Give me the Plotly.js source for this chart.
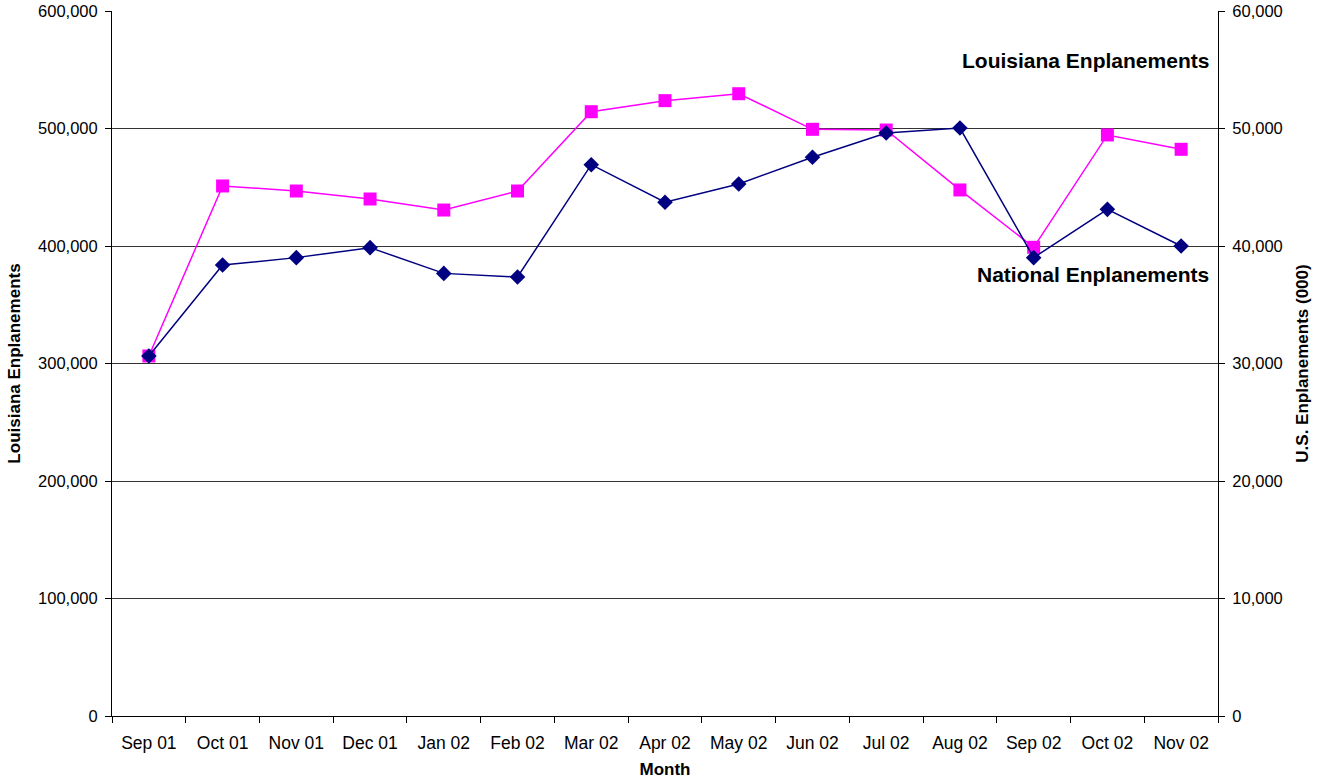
<!DOCTYPE html>
<html>
<head>
<meta charset="utf-8">
<script src="https://cdn.plot.ly/plotly-3.0.1.min.js"></script>
<style>
  html, body { margin: 0; padding: 0; background: #fff; }
  #chart { width: 1319px; height: 782px; }
</style>
</head>
<body>
<div id="chart"></div>
<script>
// Monthly enplanements, Sep 2001 - Nov 2002
const months = ["Sep 01", "Oct 01", "Nov 01", "Dec 01", "Jan 02", "Feb 02", "Mar 02",
                "Apr 02", "May 02", "Jun 02", "Jul 02", "Aug 02", "Sep 02", "Oct 02", "Nov 02"];

// Louisiana enplanements (left axis)
const louisiana = [306400, 451100, 446800, 440000, 430600, 446800, 514300,
                   523700, 529600, 499300, 498700, 447700, 398900, 494500, 482300];

// National enplanements in thousands (right axis)
const national = [30640, 38380, 39010, 39860, 37670, 37360, 46920,
                  43720, 45280, 47550, 49620, 50040, 39010, 43120, 40000];

const leftTicks = [0, 100000, 200000, 300000, 400000, 500000, 600000];
const rightTicks = [0, 10000, 20000, 30000, 40000, 50000, 60000];
const fmt = v => v.toLocaleString("en-US");

const FAMILY = "Liberation Sans, Arial, sans-serif";
const tickFont = { family: FAMILY, size: 16.5, color: "#000" };
const titleFont = { family: FAMILY, size: 17, color: "#000", weight: "bold" };
const noteFont = { family: FAMILY, size: 21, color: "#000", weight: "bold" };

const traces = [
  {
    x: months, y: louisiana, name: "Louisiana Enplanements",
    type: "scatter", mode: "lines+markers", yaxis: "y",
    line: { color: "#FF00FF", width: 1.5 },
    marker: { symbol: "square", size: 13, color: "#FF00FF" }
  },
  {
    x: months, y: national, name: "National Enplanements",
    type: "scatter", mode: "lines+markers", yaxis: "y2",
    line: { color: "#000080", width: 1.5 },
    marker: { symbol: "diamond", size: 12, color: "#000080" }
  }
];

const layout = {
  width: 1319, height: 782,
  margin: { l: 112, r: 101, t: 11, b: 66 },
  paper_bgcolor: "#fff", plot_bgcolor: "#fff",
  showlegend: false,
  xaxis: {
    type: "category", range: [-0.5, 14.5],
    tickson: "boundaries", ticks: "outside", ticklen: 6, tickcolor: "#000",
    showline: true, linecolor: "#000", linewidth: 1,
    showgrid: false, zeroline: false,
    tickfont: { family: FAMILY, size: 17.5, color: "#000" }, ticklabelstandoff: 11,
    title: { text: "Month", font: titleFont, standoff: 11 }
  },
  yaxis: {
    range: [0, 600000], tickvals: leftTicks, ticktext: leftTicks.map(fmt),
    ticks: "outside", ticklen: 6, tickcolor: "#000",
    showline: true, linecolor: "#000", linewidth: 1,
    showgrid: true, gridcolor: "#333", gridwidth: 1, zeroline: false,
    tickfont: tickFont, ticklabelstandoff: 4,
    title: { text: "Louisiana Enplanements", font: titleFont, standoff: 13 }
  },
  yaxis2: {
    overlaying: "y", side: "right",
    range: [0, 60000], tickvals: rightTicks, ticktext: rightTicks.map(fmt),
    ticks: "outside", ticklen: 6, tickcolor: "#000",
    showline: true, linecolor: "#000", linewidth: 1,
    showgrid: false, zeroline: false,
    tickfont: tickFont, ticklabelstandoff: 4,
    title: { text: "U.S. Enplanements (000)", font: titleFont, standoff: 14 }
  },
  annotations: [
    {
      text: "Louisiana Enplanements", xref: "paper", yref: "y",
      x: 0.9935, y: 558000, xanchor: "right", yanchor: "middle", showarrow: false,
      font: noteFont
    },
    {
      text: "National Enplanements", xref: "paper", yref: "y",
      x: 0.9935, y: 376000, xanchor: "right", yanchor: "middle", showarrow: false,
      font: noteFont
    }
  ]
};

Plotly.newPlot("chart", traces, layout, { displayModeBar: false, staticPlot: true });
</script>
</body>
</html>
